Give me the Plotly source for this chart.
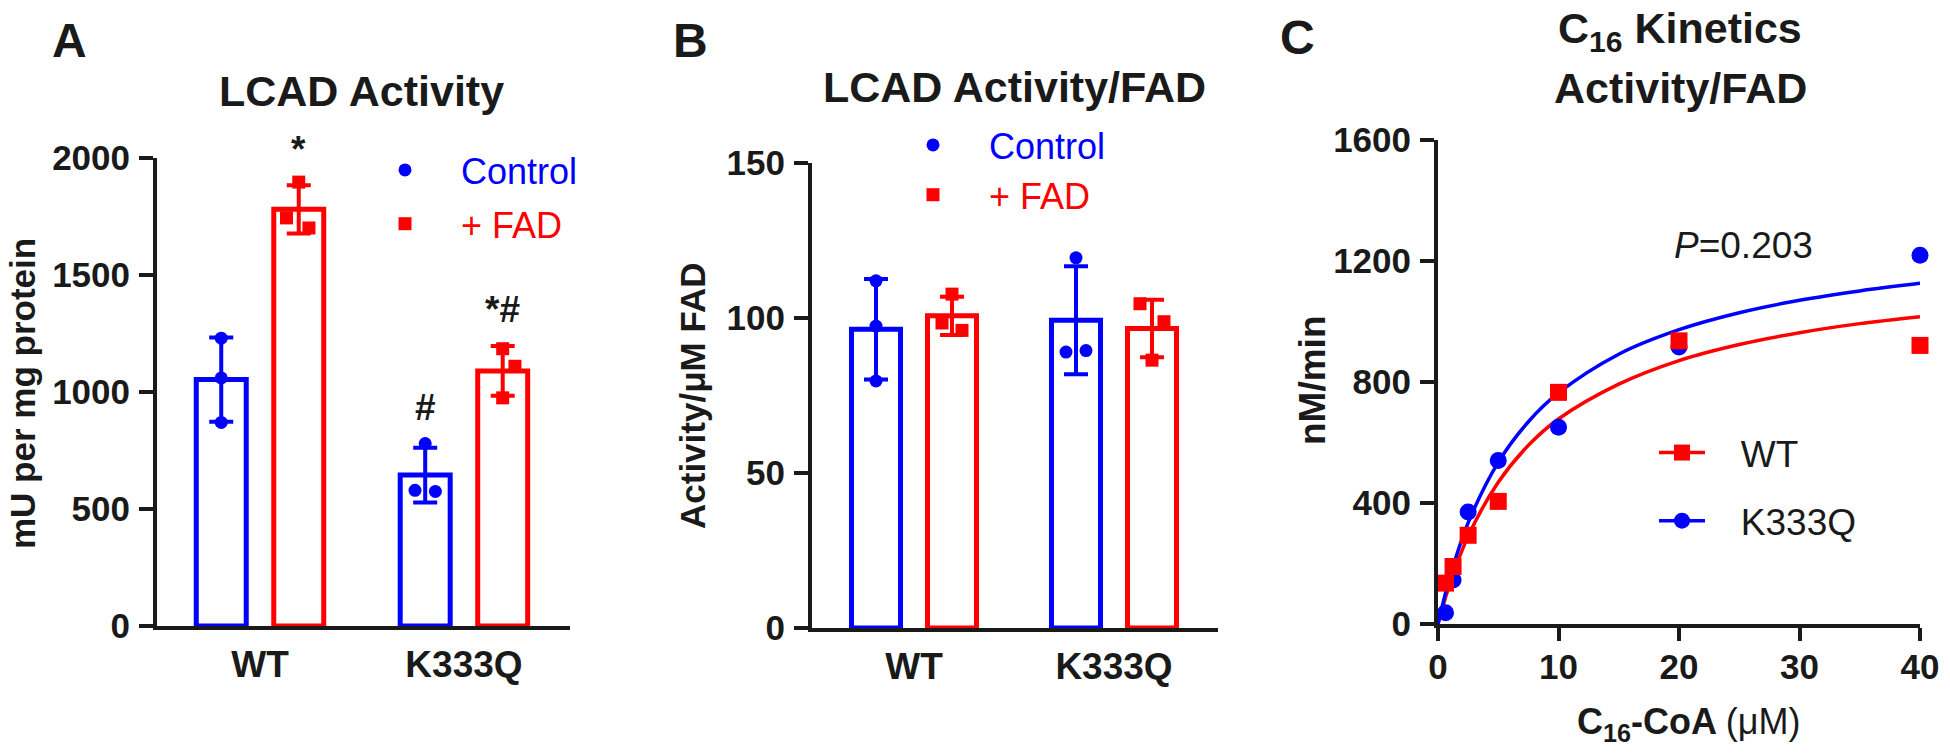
import numpy as np
import plotly.graph_objects as go

W, H = 1950, 756
FONT = "Liberation Sans, Arial, Helvetica, sans-serif"
BLUE = "#0000ff"
RED = "#ff0000"
DARK = "#1a1a1a"
NB = "\u00a0"

# ---------------- data ----------------
groups = ["WT", "K333Q"]

# Panel A: LCAD activity (mU per mg protein), individual replicates
a_control = [[1230, 1060, 870], [780, 580, 575]]
a_fad = [[1897, 1744, 1701], [1185, 1110, 975]]
a_control_sig = ["", "#"]
a_fad_sig = ["*", "*#"]

# Panel B: LCAD activity / uM FAD
b_control = [[112.0, 97.4, 79.7], [119.4, 89.0, 89.5]]
b_fad = [[107.7, 98.4, 96.0], [104.6, 98.8, 86.4]]

# Panel C: C16-CoA kinetics (nM/min)
conc = [0.625, 1.25, 2.5, 5, 10, 20, 40]
wt_rate = [135, 190, 293, 405, 765, 935, 920]
k333q_rate = [37, 145, 370, 540, 650, 915, 1218]
fit_conc = [0, 1, 2.5, 5, 7.5, 10, 15, 20, 25, 30, 35, 40]
wt_fit = [0, 135, 290, 468, 590, 677, 792, 870, 923, 962, 992, 1015]
k333q_fit = [0, 157, 334, 534, 668, 763, 891, 972, 1028, 1069, 1100, 1125]

# ---------------- style constants ----------------
OFF = 0.19      # half distance between paired bars (category units)
BW = 0.245      # bar width (category units)
JIT_A_CTRL = [[0, 0, 0], [0, -0.05, 0.05]]
JIT_A_FAD = [[0, -0.06, 0.05], [0, 0.06, 0]]
JIT_B_CTRL = [[0, 0, 0], [0, -0.05, 0.05]]
JIT_B_FAD = [[0, -0.05, 0.05], [-0.06, 0.06, 0]]
SIG_SHIFT = {"*": 13, "#": 18, "*#": 14}


def px_x(p):
    return p / W


def px_y(p):
    return 1 - p / H


fig = go.Figure()


def bar_panel(ctrl, fad, jit_c, jit_f, xa, ya, leg, sig_c=None, sig_f=None):
    for pts, off, color, sym, name, jit, sig in [
        (ctrl, -OFF, BLUE, "circle", "Control", jit_c, sig_c),
        (fad, OFF, RED, "square", "+ FAD", jit_f, sig_f),
    ]:
        means = [float(np.mean(p)) for p in pts]
        sds = [float(np.std(p, ddof=1)) for p in pts]
        xs = [i + off for i in range(len(groups))]
        fig.add_trace(go.Bar(
            x=xs, y=means, width=BW, xaxis=xa, yaxis=ya, showlegend=False,
            marker=dict(color="white", line=dict(color=color, width=5)),
            error_y=dict(type="data", array=sds, color=color, thickness=4, width=12),
            hoverinfo="skip"))
        ptx, pty = [], []
        for i, p in enumerate(pts):
            for j, v in enumerate(p):
                ptx.append(i + off + jit[i][j])
                pty.append(v)
        fig.add_trace(go.Scatter(
            x=ptx, y=pty, mode="markers", xaxis=xa, yaxis=ya,
            marker=dict(symbol=sym, size=13, color=color),
            name=f'<span style="color:{color}">{name}</span>',
            legend=leg, legendgroup=leg + name, showlegend=True, cliponaxis=False))
        if sig:
            for i, s in enumerate(sig):
                if s:
                    fig.add_annotation(
                        x=xs[i], y=means[i] + sds[i], xref=xa, yref=ya,
                        text=s, showarrow=False, yanchor="bottom", yshift=SIG_SHIFT[s],
                        font=dict(size=37, color=DARK, family=FONT, weight="bold"))


bar_panel(a_control, a_fad, JIT_A_CTRL, JIT_A_FAD, "x", "y", "legend",
          a_control_sig, a_fad_sig)
bar_panel(b_control, b_fad, JIT_B_CTRL, JIT_B_FAD, "x2", "y2", "legend2")

# Panel C
fig.add_trace(go.Scatter(x=fit_conc, y=wt_fit, mode="lines", line=dict(color=RED, width=3.5, shape="spline"),
                         xaxis="x3", yaxis="y3", showlegend=False, hoverinfo="skip"))
fig.add_trace(go.Scatter(x=fit_conc, y=k333q_fit, mode="lines", line=dict(color=BLUE, width=3.5, shape="spline"),
                         xaxis="x3", yaxis="y3", showlegend=False, hoverinfo="skip"))
fig.add_trace(go.Scatter(x=conc, y=k333q_rate, mode="markers", marker=dict(symbol="circle", size=17, color=BLUE),
                         xaxis="x3", yaxis="y3", showlegend=False, cliponaxis=False))
fig.add_trace(go.Scatter(x=conc, y=wt_rate, mode="markers", marker=dict(symbol="square", size=17, color=RED),
                         xaxis="x3", yaxis="y3", showlegend=False, cliponaxis=False))
fig.add_trace(go.Scatter(x=[None], y=[None], mode="lines+markers", name=NB * 3 + "WT",
                         line=dict(color=RED, width=3.5), marker=dict(symbol="square", size=17, color=RED),
                         xaxis="x3", yaxis="y3", legend="legend3", legendgroup="wt"))
fig.add_trace(go.Scatter(x=[None], y=[None], mode="lines+markers", name=NB * 3 + "K333Q",
                         line=dict(color=BLUE, width=3.5), marker=dict(symbol="circle", size=17, color=BLUE),
                         xaxis="x3", yaxis="y3", legend="legend3", legendgroup="k"))

tickfont = dict(size=35, color=DARK, family=FONT, weight="bold")
catfont = dict(size=37, color=DARK, family=FONT, weight="bold")
axis_common = dict(showline=True, linewidth=4, linecolor=DARK, showgrid=False, zeroline=False,
                   fixedrange=True, automargin=False)
ytick = dict(ticks="outside", ticklen=14, tickwidth=4, tickcolor=DARK, tickfont=tickfont,
             ticklabelstandoff=2)

fig.update_layout(
    width=W, height=H, margin=dict(l=0, r=0, t=0, b=0, pad=0, autoexpand=False),
    paper_bgcolor="white", plot_bgcolor="white", barmode="overlay",
    font=dict(family=FONT, color=DARK),
    xaxis=dict(domain=[px_x(157), px_x(570)], range=[-0.505, 1.52], tickvals=[0, 1], ticktext=groups,
               ticks="", tickfont=catfont, ticklabelstandoff=3, anchor="y", **axis_common),
    yaxis=dict(domain=[px_y(626), px_y(158)], range=[0, 2000], dtick=500, anchor="x", **ytick, **axis_common),
    xaxis2=dict(domain=[px_x(812), px_x(1218)], range=[-0.51, 1.52], tickvals=[0, 1], ticktext=groups,
                ticks="", tickfont=catfont, ticklabelstandoff=3, anchor="y2", **axis_common),
    yaxis2=dict(domain=[px_y(628), px_y(163)], range=[0, 150], dtick=50, anchor="x2", **ytick, **axis_common),
    xaxis3=dict(domain=[px_x(1438), px_x(1920)], range=[0, 40], dtick=10, ticks="outside", ticklen=13,
                tickwidth=4, tickcolor=DARK, tickfont=tickfont, ticklabelstandoff=-4, anchor="y3",
                **axis_common),
    yaxis3=dict(domain=[px_y(624), px_y(139.5)], range=[0, 1600], dtick=400, anchor="x3", **ytick,
                **axis_common),
    legend=dict(x=px_x(349), y=px_y(140), xanchor="left", yanchor="top", bgcolor="rgba(0,0,0,0)",
                font=dict(size=36, family=FONT), itemwidth=102, tracegroupgap=4),
    legend2=dict(x=px_x(877), y=px_y(115), xanchor="left", yanchor="top", bgcolor="rgba(0,0,0,0)",
                 font=dict(size=36, family=FONT), itemwidth=102, tracegroupgap=0),
    legend3=dict(x=px_x(1654), y=px_y(422), xanchor="left", yanchor="top", bgcolor="rgba(0,0,0,0)",
                 font=dict(size=37, family=FONT, color=DARK), itemwidth=46, tracegroupgap=17),
)


def ann(text, x, y, size, angle=0, bold=True, color=DARK):
    fig.add_annotation(x=px_x(x), y=px_y(y), xref="paper", yref="paper", text=text, showarrow=False,
                       xanchor="center", yanchor="middle", textangle=angle,
                       font=dict(size=size, color=color, family=FONT, weight="bold" if bold else "normal"))


# panel letters
ann("A", 69, 41, 48)
ann("B", 690, 41, 48)
ann("C", 1297, 38, 48)
# titles
ann("LCAD Activity", 361, 91, 43)
ann("LCAD Activity/FAD", 1014, 87, 43)
ann("C<sub>16</sub> Kinetics", 1680, 31, 43)
ann("Activity/FAD", 1680, 88, 43)
# axis titles
ann("mU per mg protein", 22, 394, 35, angle=-90)
ann("Activity/μM FAD", 692, 396, 35, angle=-90)
ann("nM/min", 1312, 381, 37, angle=-90)
ann("C<sub>16</sub>-CoA <span style='font-weight:normal'>(μM)</span>", 1688, 724, 36)
# p-value
ann("<i>P</i>=0.203", 1743, 246, 37, bold=False)

fig.write_html(
    "out.html",
    config={"displayModeBar": False, "staticPlot": False},
    post_script="document.body.style.margin='0';document.body.style.overflow='hidden';",
)
